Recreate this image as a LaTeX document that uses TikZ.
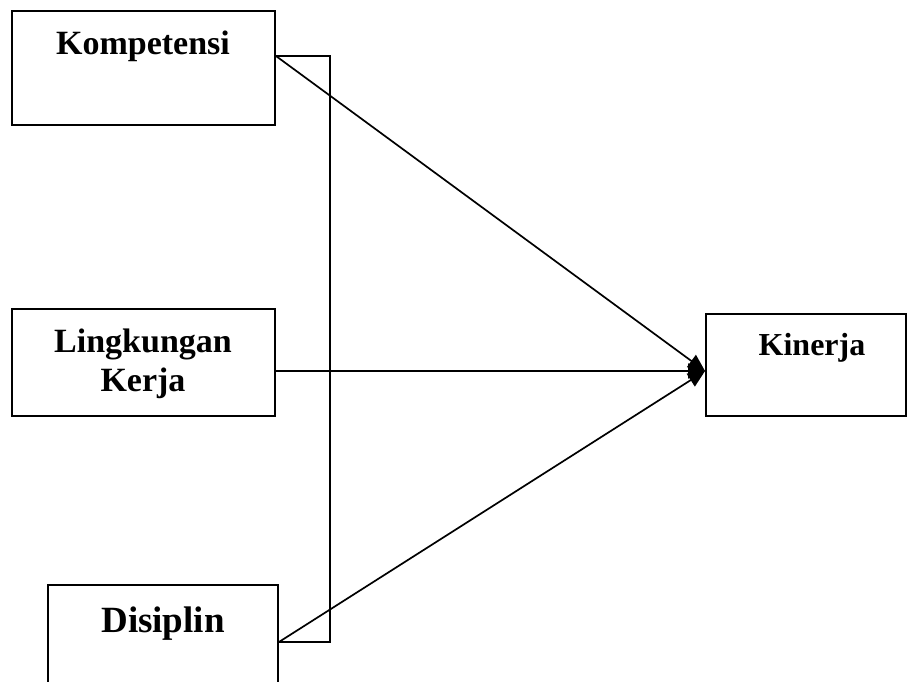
\documentclass[tikz,border=0pt]{standalone}
\usepackage{fontspec}
\setmainfont{Liberation Serif}
\usetikzlibrary{arrows.meta}
\begin{document}
\begin{tikzpicture}[x=1pt,y=-1pt,
  box/.style={draw, line width=1.9pt, inner sep=0pt},
  lbl/.style={font=\bfseries\fontsize{34}{39}\selectfont, anchor=base, inner sep=0pt},
  conn/.style={line width=1.7pt},
  arr/.style={conn, -{Triangle[length=17pt,width=15pt]}}]
\clip (0,0) rectangle (907,682);
\useasboundingbox (0,0) rectangle (907,682);
% boxes
\node[box, minimum width=263pt, minimum height=114pt] (komp) at (143.5,68) {};
\node[box, minimum width=263pt, minimum height=107pt] (ling) at (143.5,362.5) {};
\node[box, minimum width=230pt, minimum height=140pt] (disi) at (163,655) {};
\node[box, minimum width=200pt, minimum height=102pt] (kin) at (806,365) {};
% labels
\node[lbl] (tkomp) at (143,55) {Kompetensi};
\node[lbl] (tling1) at (143,352) {Lingkungan};
\node[lbl] (tling2) at (143,391) {Kerja};
\node[lbl, font=\bfseries\fontsize{37}{42}\selectfont] (tdisi) at (163,632) {Disiplin};
\node[lbl, font=\bfseries\fontsize{32}{37}\selectfont] (tkin) at (812,355) {Kinerja};
% connection points
\coordinate (k1) at (komp.east |- 0,56);
\coordinate (l1) at (ling.east |- 0,371);
\coordinate (d1) at (disi.east |- 0,642);
\coordinate (t) at (kin.west |- 0,371);
\coordinate (b1) at (330,56);
\coordinate (b2) at (330,642);
% bracket
\draw[conn] (k1) -- (b1) -- (b2) -- (d1);
% arrows
\draw[arr] (k1) -- (t);
\draw[arr] (l1) -- (t);
\draw[arr] (d1) -- (t);
\end{tikzpicture}
\end{document}
